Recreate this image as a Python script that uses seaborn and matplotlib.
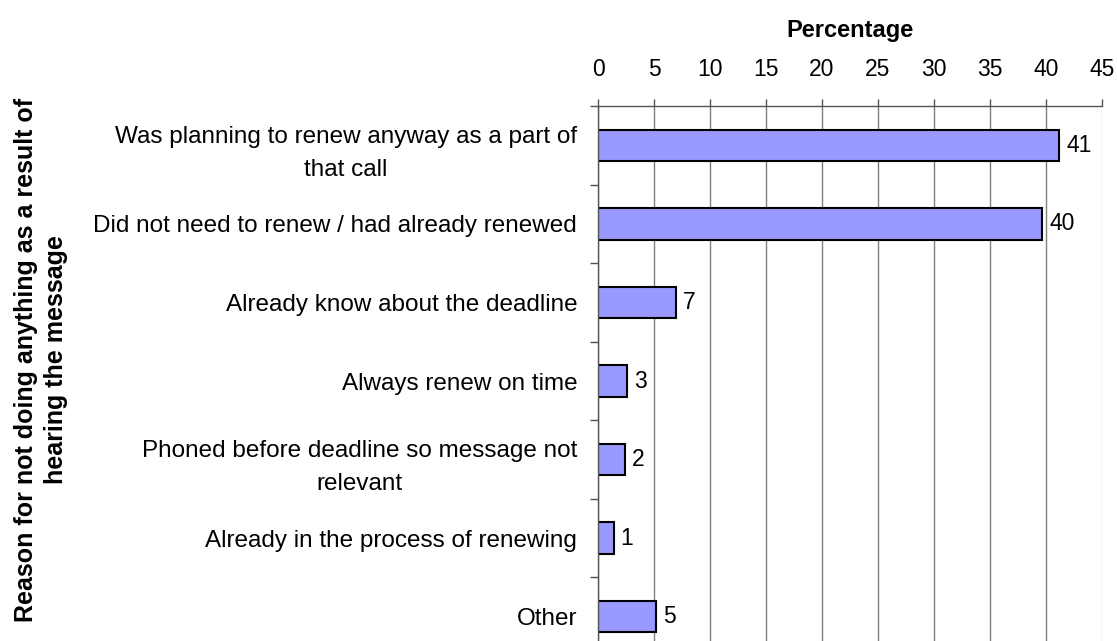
import numpy as np
import matplotlib
matplotlib.use('Agg')
import matplotlib.pyplot as plt
import seaborn as sns

# values (bar lengths) and the rounded labels printed next to them
reasons = [
    'Was planning to renew anyway as a part of\nthat call',
    'Did not need to renew / had already renewed',
    'Already know about the deadline',
    'Always renew on time',
    'Phoned before deadline so message not\nrelevant',
    'Already in the process of renewing',
    'Other',
]
percent = [41.2, 39.7, 7.0, 2.6, 2.4, 1.4, 5.2]
percent_labels = ['41', '40', '7', '3', '2', '1', '5']
x_ticks = list(range(0, 50, 5))

sns.set_style('white')
plt.rcParams['font.family'] = ['Liberation Sans', 'DejaVu Sans']
plt.rcParams['text.color'] = 'black'
plt.rcParams['xtick.labelcolor'] = 'black'
plt.rcParams['ytick.labelcolor'] = 'black'

fig = plt.figure(figsize=(11.17, 6.41), dpi=100)
ax = fig.add_axes([0.5354, -0.0234, 0.4509, 0.858])

sns.barplot(x=percent, y=reasons, orient='h', color='#9999FF',
            edgecolor='black', linewidth=1.5, width=0.4, saturation=1, ax=ax)

ax.bar_label(ax.containers[0], labels=percent_labels, padding=5,
             fontsize=16.5, color='black')

ax.set_xlim(0, 45)
ax.set_ylim(6.5, -0.5)
ax.set_xticks(x_ticks)
ax.xaxis.tick_top()
ax.set_xlabel('')
ax.set_ylabel('')
ax.tick_params(axis='x', which='major', direction='out', length=5, width=1,
               color='#555555', labelsize=16.5, pad=13)
ax.tick_params(axis='y', which='major', length=0, labelsize=17.5, pad=15)
ax.set_yticks(np.arange(-0.5, 7, 1), minor=True)
ax.tick_params(axis='y', which='minor', direction='out', length=6, width=1,
               color='#555555', left=True)

for lab in ax.get_yticklabels():
    lab.set_multialignment('center')
    lab.set_linespacing(1.65)

ax.grid(axis='x', color='#808080', lw=1)
ax.get_xgridlines()[-1].set_color('#dddddd')
ax.set_axisbelow(True)

for side in ['right', 'bottom']:
    ax.spines[side].set_visible(False)
for side in ['top', 'left']:
    ax.spines[side].set_color('#555555')
    ax.spines[side].set_linewidth(1)

fig.text(0.7608, 1 - 36.7 / 641, 'Percentage', ha='center', va='baseline',
         fontsize=17, fontweight='bold')
fig.text(41 / 1117, 1 - 360 / 641,
         'Reason for not doing anything as a result of\nhearing the message',
         rotation=90, ha='center', va='center', multialignment='center',
         fontsize=18, fontweight='bold', linespacing=1.3)

fig.savefig('out.png', dpi=100)
